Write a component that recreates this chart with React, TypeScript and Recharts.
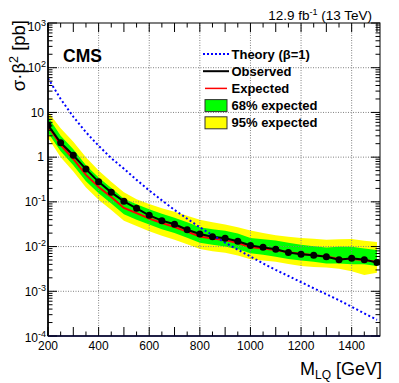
import { ComposedChart, Area, Line, XAxis, YAxis, ReferenceLine } from 'recharts'

const FONT = '"Liberation Sans", Arial, Helvetica, sans-serif'

const MASS = [200, 250, 300, 350, 400, 450, 500, 550, 600, 650, 700, 750, 800, 850, 900, 950, 1000, 1050, 1100, 1150, 1200, 1250, 1300, 1350, 1400, 1450, 1500]
const OBSERVED = [5.2, 2.1, 1.1, 0.54, 0.28, 0.163, 0.103, 0.0717, 0.05, 0.038, 0.0315, 0.0238, 0.0191, 0.0166, 0.0153, 0.0131, 0.0106, 0.0096, 0.0087, 0.0074, 0.0067, 0.0064, 0.0059, 0.0051, 0.0055, 0.0051, 0.0044]
const EXPECTED = [4.97, 1.87, 0.91, 0.4, 0.215, 0.128, 0.073, 0.056, 0.0424, 0.0336, 0.0274, 0.0217, 0.0168, 0.0151, 0.014, 0.012, 0.0098, 0.0091, 0.0084, 0.0075, 0.0069, 0.0064, 0.006, 0.0053, 0.0053, 0.005, 0.0045]
const YELLOW_HI = [10.4, 4.4, 2.2, 1.0, 0.5, 0.28, 0.165, 0.115, 0.09, 0.072, 0.06, 0.049, 0.04, 0.035, 0.031, 0.027, 0.023, 0.02, 0.0178, 0.0165, 0.0156, 0.015, 0.0142, 0.0145, 0.0148, 0.0135, 0.0126]
const GREEN_HI = [8.0, 3.0, 1.5, 0.66, 0.35, 0.205, 0.118, 0.088, 0.068, 0.054, 0.044, 0.035, 0.027, 0.0245, 0.0225, 0.0195, 0.0155, 0.0146, 0.0136, 0.0122, 0.011, 0.0102, 0.0095, 0.0099, 0.0099, 0.0091, 0.0084]
const GREEN_LO = [3.5, 1.35, 0.66, 0.29, 0.155, 0.092, 0.053, 0.04, 0.031, 0.0245, 0.02, 0.0158, 0.0122, 0.011, 0.0101, 0.0087, 0.0071, 0.0066, 0.0059, 0.0053, 0.0049, 0.0046, 0.0042, 0.0042, 0.004, 0.004, 0.0037]
const YELLOW_LO = [2.7, 1.0, 0.48, 0.21, 0.112, 0.066, 0.038, 0.029, 0.022, 0.0175, 0.0143, 0.0113, 0.0088, 0.0079, 0.0073, 0.0063, 0.0052, 0.0049, 0.0046, 0.0041, 0.0037, 0.0035, 0.0034, 0.0032, 0.0028, 0.0023, 0.0026]
const THEORY = [58, 20, 8.0, 3.6, 1.8, 0.95, 0.55, 0.31, 0.18, 0.108, 0.066, 0.042, 0.027, 0.018, 0.0122, 0.0085, 0.006, 0.0042, 0.003, 0.0022, 0.0016, 0.00117, 0.00086, 0.00063, 0.00045, 0.00032, 0.00023]

const X_TICKS = [200, 250, 300, 350, 400, 450, 500, 550, 600, 650, 700, 750, 800, 850, 900, 950, 1000, 1050, 1100, 1150, 1200, 1250, 1300, 1350, 1400, 1450, 1500]
const X_GRID = [400, 600, 800, 1000, 1200, 1400]
const DECADES = [-4, -3, -2, -1, 0, 1, 2]
const MINOR = [1, 2, 3, 4, 5, 6, 7, 8, 9]
const Y_TICKS = [...DECADES.flatMap((e) => MINOR.map((k) => k * Math.pow(10, e))), 1000]
const Y_GRID = [0.001, 0.01, 0.1, 1, 10, 100]

const W = 399
const H = 383
const TOP = 23
const LEFT = 48
const RIGHT = 380
const BOTTOM = 336

const data = MASS.map((m, i) => ({
  m,
  obs: OBSERVED[i],
  exp: EXPECTED[i],
  theory: THEORY[i],
  y95: [YELLOW_LO[i], YELLOW_HI[i]],
  y68: [GREEN_LO[i], GREEN_HI[i]],
}))

function XTick(props: any) {
  const { x, payload } = props
  const v = payload.value
  const len = v % 100 === 0 ? 9 : 4.5
  return (
    <g>
      <line x1={x} x2={x} y1={BOTTOM} y2={BOTTOM - len} stroke="#000" />
      <line x1={x} x2={x} y1={TOP} y2={TOP + len} stroke="#000" />
      {v % 200 === 0 && (
        <text x={x} y={349.5} textAnchor="middle" fontSize={12} fontFamily={FONT} fill="#000">{v}</text>
      )}
    </g>
  )
}

function YTick(props: any) {
  const { y, payload } = props
  const lg = Math.log10(payload.value)
  const e = Math.round(lg)
  const decade = Math.abs(lg - e) < 1e-6
  const len = decade ? 9 : 4.5
  const shift = e === 3 ? 4 : e === -4 ? 2 : 0
  let label = null
  if (decade) {
    if (e === 0 || e === 1) {
      label = <text x={44} y={y + 4.3 + shift} textAnchor="end" fontSize={12} fontFamily={FONT} fill="#000">{e === 0 ? '1' : '10'}</text>
    } else {
      label = (
        <text x={46} y={y + 4.3 + shift} textAnchor="end" fontSize={12} fontFamily={FONT} fill="#000">
          10<tspan dy={-5} fontSize={9}>{e}</tspan>
        </text>
      )
    }
  }
  return (
    <g>
      <line x1={LEFT} x2={LEFT + len} y1={y} y2={y} stroke="#000" />
      <line x1={RIGHT} x2={RIGHT - len} y1={y} y2={y} stroke="#000" />
      {label}
    </g>
  )
}

function Overlay() {
  const legend = [
    { label: 'Theory (β=1)', kind: 'dot' },
    { label: 'Observed', kind: 'black' },
    { label: 'Expected', kind: 'red' },
    { label: '68% expected', kind: 'green' },
    { label: '95% expected', kind: 'yellow' },
  ]
  return (
    <svg width={W} height={H} style={{ position: 'absolute', left: 0, top: 0, pointerEvents: 'none' }} fontFamily={FONT}>
      <rect x={LEFT} y={TOP} width={RIGHT - LEFT} height={BOTTOM - TOP} fill="none" stroke="#000" strokeWidth={1} />
      <line x1={LEFT} x2={LEFT} y1={TOP} y2={BOTTOM} stroke="#000" strokeWidth={1.6} />
      <line x1={LEFT} x2={RIGHT} y1={BOTTOM} y2={BOTTOM} stroke="#000033" strokeWidth={1.6} />
      <text x={63} y={62} fontSize={17.5} fontWeight="bold">CMS</text>
      <text x={372} y={19.5} textAnchor="end" fontSize={13.5}>
        12.9 fb<tspan dy={-5} fontSize={9}>-1</tspan><tspan dy={5}> (13 TeV)</tspan>
      </text>
      <text x={382} y={375} textAnchor="end" fontSize={18}>
        M<tspan dy={4} fontSize={12}>LQ</tspan><tspan dy={-4}> [GeV]</tspan>
      </text>
      <text transform="translate(24.5, 20) rotate(-90)" textAnchor="end" fontSize={18.5}>
        σ·β<tspan dy={-7} fontSize={12.5}>2</tspan><tspan dy={7}> [pb]</tspan>
      </text>
      {legend.map((d, i) => {
        const cy = 54 + i * 17.2
        return (
          <g key={d.label}>
            {d.kind === 'dot' && <line x1={203} x2={229} y1={cy} y2={cy} stroke="#0000ff" strokeWidth={2} strokeDasharray="2 2" />}
            {d.kind === 'black' && <line x1={203} x2={229} y1={cy} y2={cy} stroke="#000" strokeWidth={2} />}
            {d.kind === 'red' && <line x1={205} x2={227} y1={cy} y2={cy} stroke="#ff0000" strokeWidth={1.5} />}
            {d.kind === 'green' && <rect x={205} y={cy - 6} width={22} height={12} fill="#00ff00" stroke="#333" strokeWidth={1} />}
            {d.kind === 'yellow' && <rect x={205} y={cy - 6} width={22} height={12} fill="#ffff00" stroke="#333" strokeWidth={1} />}
            <text x={231.5} y={cy + 4.6} fontSize={13} fontWeight="bold" fill="#000">{d.label}</text>
          </g>
        )
      })}
    </svg>
  )
}

export default function App() {
  return (
    <div style={{ position: 'absolute', left: 0, top: 0, width: W, height: H, background: '#fff' }}>
      <ComposedChart width={W} height={H} data={data} margin={{ top: TOP, right: W - RIGHT, bottom: 0, left: 0 }}>
        <XAxis dataKey="m" type="number" domain={[200, 1512]} ticks={X_TICKS} interval={0} tick={<XTick />} tickLine={false} axisLine={false} height={H - BOTTOM} allowDataOverflow />
        <YAxis type="number" scale="log" domain={[0.0001, 1000]} ticks={Y_TICKS} interval={0} tick={<YTick />} tickLine={false} axisLine={false} width={LEFT} allowDataOverflow />
        <Area dataKey="y95" type="linear" fill="#ffff00" fillOpacity={1} stroke="none" isAnimationActive={false} />
        <Area dataKey="y68" type="linear" fill="#00ff00" fillOpacity={1} stroke="none" isAnimationActive={false} />
        {X_GRID.map((v) => (
          <ReferenceLine key={'x' + v} x={v} stroke="#808080" strokeDasharray="1 1.5" />
        ))}
        {Y_GRID.map((v) => (
          <ReferenceLine key={'y' + v} y={v} stroke="#808080" strokeDasharray="1 1.5" />
        ))}
        <Line dataKey="exp" type="linear" stroke="#ff0000" strokeWidth={2} dot={false} activeDot={false} isAnimationActive={false} />
        <Line dataKey="obs" type="linear" stroke="#000" strokeWidth={2} dot={{ r: 3.5, fill: '#000', stroke: '#000', strokeWidth: 0 }} activeDot={false} isAnimationActive={false} />
        <Line dataKey="theory" type="linear" stroke="#0000ff" strokeWidth={2} strokeDasharray="2 2.5" dot={false} activeDot={false} isAnimationActive={false} />
      </ComposedChart>
      <Overlay />
    </div>
  )
}
